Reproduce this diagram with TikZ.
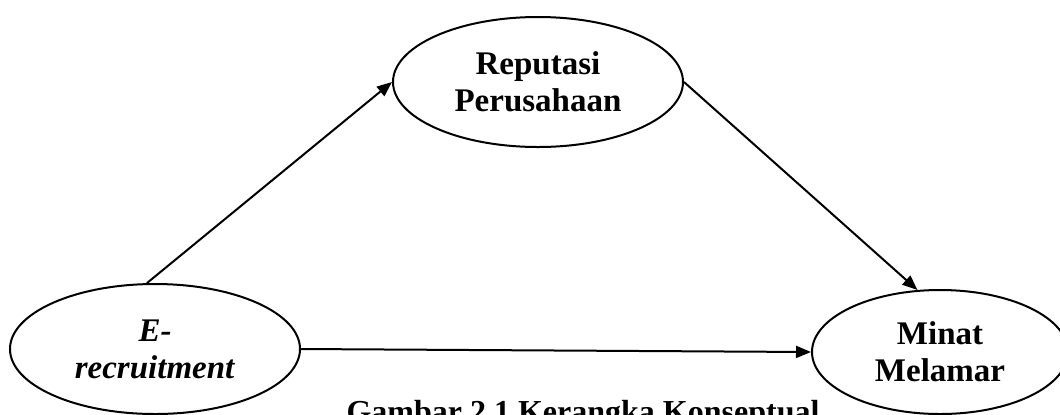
\documentclass[tikz,border=0pt]{standalone}
\usepackage{fontspec}
\setmainfont{Liberation Serif}
\usetikzlibrary{arrows.meta,shapes.geometric}

\begin{document}
\begin{tikzpicture}[x=0.5pt,y=-0.5pt,->,>={Triangle[length=7.5pt,width=6pt]},auto,line width=1pt,main node/.style={ellipse,draw,line width=1pt,minimum width=145pt,minimum height=65pt,inner sep=0pt,align=center,font=\fontsize{16.5}{18.5}\selectfont\bfseries}]
		\useasboundingbox (0,0) rectangle (1060,414);
		\node[main node] (1) at (155,349) {\textit{E-}\\\textit{recruitment}};
		\node[main node] (2) at (538,82) {Reputasi\\Perusahaan};
		\node[main node,minimum width=128pt,minimum height=62pt] (3) at (940,352) {Minat\\Melamar};
		\node[font=\fontsize{16}{18.5}\selectfont\bfseries,anchor=base] (4) at (583,422) {Gambar 2.1 Kerangka Konseptual};
		
		\path
		    (1.97) edge (2.west)
		    (2.east) edge (3.110)
		    (1.east) edge (3.west);
		\end{tikzpicture}
\end{document}
